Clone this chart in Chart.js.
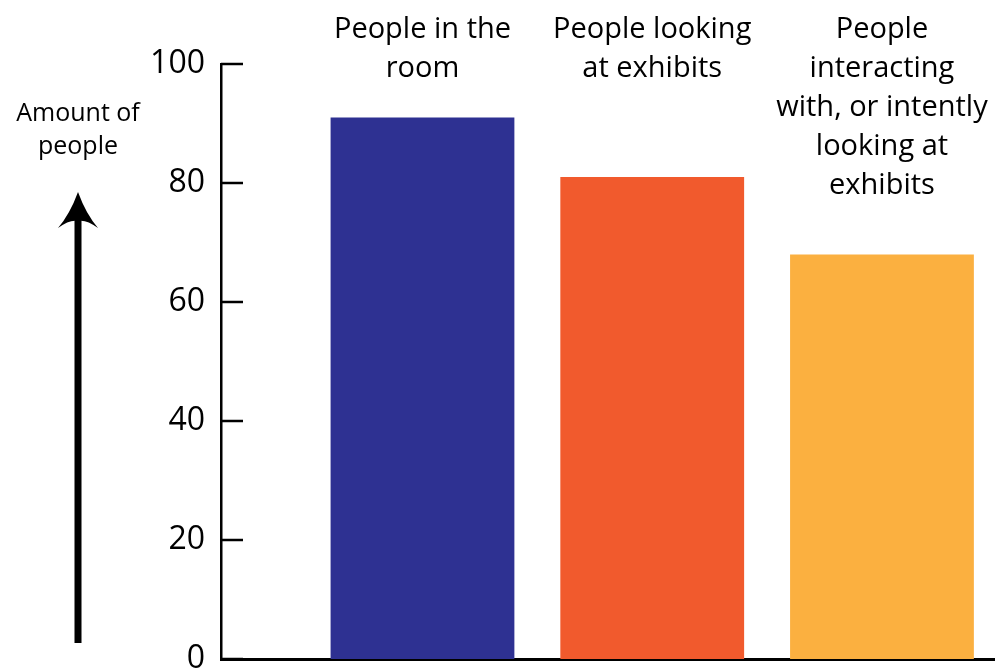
<!DOCTYPE html>
<html>
<head>
<meta charset="utf-8">
<script src="https://cdn.jsdelivr.net/npm/chart.js@4.4.1/dist/chart.umd.min.js"></script>
<style>
  html, body { margin: 0; padding: 0; background: #fff; }
  #wrap { width: 995px; height: 671px; }
</style>
</head>
<body>
<div id="wrap"><canvas id="myChart"></canvas></div>
<script>
// categories (multi-line labels shown above the bars)
const categorias = [
  ['People in the', 'room'],
  ['People looking', 'at exhibits'],
  ['People', 'interacting', 'with, or intently', 'looking at', 'exhibits'],
];
const valores = [91, 81, 68];
const cores = ['#2E3192', '#F15A2D', '#FBB040'];
const ticksY = [0, 20, 40, 60, 80, 100];
const tituloY = ['Amount of', 'people'];

const FONTE = '"Open Sans", sans-serif';

// rotulos das categorias, titulo do eixo y com seta e marcas internas
const extras = {
  id: 'extras',
  afterDraw(chart) {
    const ctx = chart.ctx;
    const x = chart.scales.x;
    const y = chart.scales.y;
    ctx.save();
    // marcas do eixo y (para dentro)
    ctx.strokeStyle = '#000';
    ctx.lineWidth = 2.5;
    ticksY.forEach(v => {
      const py = y.getPixelForValue(v);
      ctx.beginPath();
      ctx.moveTo(x.left, py);
      ctx.lineTo(x.left + 22, py);
      ctx.stroke();
    });
    // rotulos das categorias
    ctx.fillStyle = '#000';
    ctx.font = '29px ' + FONTE;
    ctx.textAlign = 'center';
    ctx.textBaseline = 'alphabetic';
    categorias.forEach((linhas, i) => {
      const px = x.getPixelForValue(i);
      linhas.forEach((t, k) => ctx.fillText(t, px, 38 + k * 39));
    });
    // titulo do eixo y
    ctx.font = '25px ' + FONTE;
    tituloY.forEach((t, k) => ctx.fillText(t, 78, 121 + k * 33));
    // seta
    ctx.fillRect(74.5, 220, 7, 423);
    ctx.beginPath();
    ctx.moveTo(78, 192);
    ctx.quadraticCurveTo(86, 214, 98, 228);
    ctx.quadraticCurveTo(86, 219, 78, 221);
    ctx.quadraticCurveTo(70, 219, 58, 228);
    ctx.quadraticCurveTo(70, 214, 78, 192);
    ctx.fill();
    ctx.restore();
  }
};

(() => {
  const grafico = new Chart('myChart', {
    type: 'bar',
    data: {
      datasets: [{
        data: valores.map((v, i) => ({ x: i, y: v })),
        backgroundColor: cores,
        borderWidth: 0,
        categoryPercentage: 1,
        barPercentage: 0.8,
      }]
    },
    options: {
      responsive: true,
      maintainAspectRatio: false,
      animation: false,
      layout: { padding: { top: 64, bottom: 12, left: 0, right: 0 } },
      plugins: { legend: { display: false }, tooltip: { enabled: false } },
      scales: {
        x: {
          type: 'linear',
          offset: false,
          min: -0.877,
          max: 2.492,
          z: 1,
          afterBuildTicks(s) { s.ticks = valores.map((v, i) => ({ value: i })); },
          grid: { display: false, drawTicks: false },
          border: { display: true, color: '#000', width: 3 },
          ticks: { display: false },
          afterFit(s) { s.height = 0; s.paddingLeft = 0; s.paddingRight = 0; },
        },
        y: {
          min: 0,
          max: 100,
          afterBuildTicks(s) { s.ticks = ticksY.map(v => ({ value: v })); },
          grid: { display: false, drawTicks: false },
          border: { display: true, color: '#000', width: 2.5 },
          ticks: {
            color: '#000',
            padding: 16,
            font: { family: FONTE, size: 32 },
          },
          afterFit(s) { s.width = 221; s.paddingTop = 0; s.paddingBottom = 0; },
        }
      }
    },
    plugins: [extras]
  });
})();
</script>
</body>
</html>
